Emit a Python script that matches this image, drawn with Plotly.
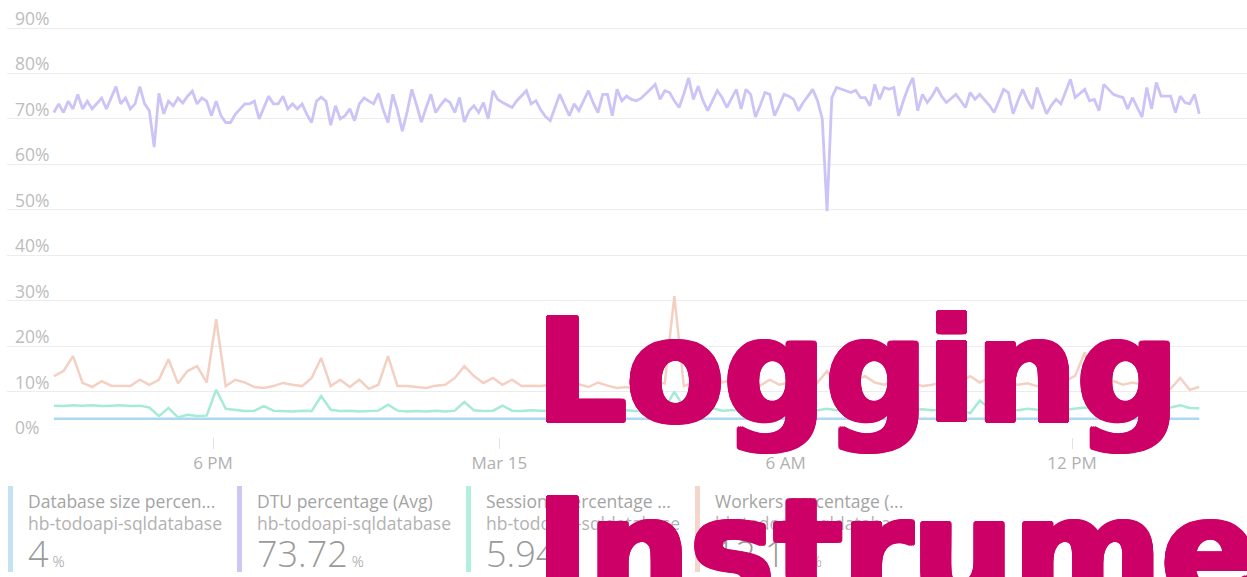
import pandas as pd
import plotly.graph_objects as go

# ---------------- data ----------------
series_names = ["Database size percentage (Max)", "DTU percentage (Avg)",
                "Sessions percentage (Avg)", "Workers percentage (Avg)"]
legend_titles = ["Database size percen...", "DTU percentage (Avg)",
                 "Sessions percentage ...", "Workers percentage (..."]
resource_name = "hb-todoapi-sqldatabase"
summary_values = ["4", "73.72", "5.94", "12.16"]

start_time = "2024-03-14 14:40"

dtu_pct = [
    71.4, 73.3, 71.4, 73.9, 72.2, 75.4, 72.2, 73.9, 72.2, 73.3,
    74.6, 72.2, 74.5, 77.1, 73.3, 74.6, 72.2, 73.3, 77.1, 73.3,
    71.8, 63.8, 75.6, 71.1, 73.9, 72.9, 74.6, 73.5, 75.0, 76.1,
    73.3, 74.6, 73.9, 70.7, 73.9, 70.7, 69.2, 69.2, 71.0, 72.2,
    73.3, 73.3, 73.9, 70.0, 72.5, 75.0, 73.3, 73.3, 75.0, 72.2,
    73.3, 72.2, 73.3, 71.0, 69.2, 73.9, 74.8, 73.9, 68.6, 72.9,
    70.0, 70.7, 72.2, 69.6, 73.3, 74.6, 73.9, 73.3, 75.6, 72.0,
    69.2, 75.4, 71.8, 67.3, 71.5, 76.5, 73.0, 69.3, 72.5, 75.4,
    71.4, 73.0, 74.3, 73.6, 71.4, 74.7, 69.3, 71.8, 72.9, 71.4,
    73.6, 70.0, 76.2, 74.3, 73.6, 73.0, 72.5, 74.0, 75.0, 76.2,
    73.3, 74.0, 72.0, 70.5, 69.6, 72.5, 75.4, 73.0, 70.7, 73.3,
    71.8, 74.0, 76.2, 73.5, 71.4, 75.4, 75.4, 70.7, 76.5, 74.0,
    75.0, 74.3, 74.0, 74.5, 75.4, 76.5, 77.6, 74.3, 76.2, 75.8,
    74.0, 72.5, 75.5, 79.0, 74.3, 77.2, 74.0, 71.8, 74.0, 76.2,
    74.7, 72.5, 74.5, 76.5, 72.2, 76.5, 75.4, 70.4, 73.0, 75.8,
    75.4, 70.7, 73.0, 75.4, 75.0, 74.3, 71.8, 73.6, 75.0, 76.5,
    74.0, 70.0, 49.7, 74.7, 76.9, 76.5, 76.2, 75.8, 76.3, 74.7,
    74.7, 72.9, 77.6, 74.3, 76.9, 76.5, 76.9, 70.7, 74.0, 76.9,
    79.0, 71.8, 75.4, 73.6, 75.0, 76.9, 75.0, 73.6, 74.5, 75.4,
    74.0, 72.5, 75.8, 74.3, 75.4, 74.3, 73.0, 71.4, 74.0, 76.5,
    75.8, 71.1, 74.0, 76.5, 74.0, 72.2, 76.9, 74.0, 71.1, 73.0,
    74.3, 73.3, 76.0, 78.7, 74.7, 75.5, 76.5, 74.0, 74.3, 71.8,
    77.6, 76.5, 75.4, 75.0, 74.7, 72.2, 74.7, 72.5, 70.4, 76.9,
    72.2, 78.0, 75.0, 75.0, 75.0, 71.4, 75.0, 73.6, 73.3, 75.4,
    71.1,
]

workers_pct = [
    13.4, 14.5, 17.8, 11.9, 11.0, 12.3, 11.3, 11.3, 11.2, 12.6,
    11.5, 12.6, 17.1, 11.8, 14.5, 15.6, 12.0, 25.9, 11.2, 12.6,
    12.0, 11.0, 10.8, 11.2, 11.9, 11.5, 11.2, 13.0, 17.4, 11.2,
    12.6, 11.0, 12.6, 10.6, 11.5, 17.8, 11.2, 11.2, 11.0, 10.8,
    11.3, 11.5, 13.0, 15.6, 13.4, 11.9, 13.0, 11.5, 12.6, 11.2,
    11.3, 11.2, 11.5, 12.0, 11.2, 11.6, 11.0, 12.0, 11.3, 10.8,
    11.0, 10.4, 11.5, 12.0, 11.8, 31.0, 11.2, 12.0, 12.6, 15.6,
    12.0, 12.6, 11.5, 12.0, 11.3, 12.6, 11.5, 12.0, 11.2, 14.8,
    12.0, 14.5, 11.5, 12.0, 12.6, 13.4, 12.0, 11.5, 12.3, 11.2,
    12.0, 11.2, 11.5, 12.0, 11.5, 12.3, 13.4, 12.0, 13.0, 11.5,
    12.0, 11.5, 11.8, 11.2, 12.0, 11.5, 12.3, 13.5, 18.6, 12.6,
    12.0, 12.3, 11.5, 12.0, 11.5, 12.3, 11.5, 10.6, 13.0, 10.4,
    11.0,
]

sessions_pct = [
    6.9, 6.8, 7.0, 6.9, 7.0, 6.8, 6.9, 7.0, 6.8, 6.9,
    6.5, 4.6, 6.4, 4.3, 4.9, 4.6, 4.7, 10.4, 6.2, 5.9,
    5.7, 5.8, 6.8, 5.8, 5.7, 5.6, 5.8, 5.7, 9.0, 6.0,
    5.7, 5.8, 5.6, 5.7, 5.8, 7.1, 5.8, 5.6, 5.7, 5.6,
    5.8, 5.6, 5.8, 7.7, 5.9, 5.7, 5.8, 6.9, 5.8, 5.7,
    5.9, 5.8, 5.7, 5.9, 5.8, 5.7, 5.9, 5.8, 6.0, 5.8,
    5.9, 5.7, 5.8, 6.0, 6.2, 10.0, 6.5, 6.0, 5.9, 6.3,
    5.8, 5.9, 6.0, 5.8, 6.1, 5.9, 6.0, 5.8, 6.1, 6.0,
    5.9, 6.2, 5.9, 6.0, 5.8, 6.1, 6.0, 5.9, 6.1, 5.9,
    6.0, 6.1, 5.9, 6.0, 5.8, 6.0, 5.2, 8.0, 6.3, 6.0,
    6.1, 5.9, 6.2, 6.0, 6.1, 6.3, 6.0, 6.2, 6.5, 6.2,
    6.3, 6.1, 6.2, 6.3, 6.1, 6.4, 6.3, 6.5, 7.0, 6.4,
    6.3,
]

db_size_pct = [4.0, 4.0, 4.0, 4.0, 4.0, 4.0, 4.0, 4.0, 4.0, 4.0,
               4.0, 4.0, 4.0, 4.0, 4.0, 4.0, 4.0, 4.0, 4.0, 4.0,
               4.0, 4.0, 4.0, 4.0, 4.0]

y_tick_vals = [0, 10, 20, 30, 40, 50, 60, 70, 80, 90]
y_tick_text = ["0%", "10%", "20%", "30%", "40%", "50%", "60%", "70%", "80%", "90%"]
x_tick_vals = ["2024-03-14 18:00", "2024-03-15 00:00", "2024-03-15 06:00", "2024-03-15 12:00"]
x_tick_text = ["6 PM", "Mar 15", "6 AM", "12 PM"]
x_range = ["2024-03-14 13:41", "2024-03-15 15:40"]
y_range = [0, 94.4]

# ---------------- styling ----------------
line_colors = ["#acd9f1", "#cbc4f7", "#a6ebd7", "#f4d0c3"]
bar_colors = ["#c3e3f5", "#cdc7f5", "#b3efde", "#f5d6cc"]
overlay_color = "#cc0066"
overlay_font = "DejaVu Sans, Liberation Sans, sans-serif"
c = overlay_color
overlay_shadow = (f"3px 0 0 {c}, -3px 0 0 {c}, 0 2px 0 {c}, 0 -2px 0 {c}, "
                  f"2px 2px 0 {c}, -2px -2px 0 {c}, 2px -2px 0 {c}, -2px 2px 0 {c}, "
                  f"3px 1px 0 {c}, -3px -1px 0 {c}, 3px -1px 0 {c}, -3px 1px 0 {c}")
W, H = 1247, 577
PL, PR, PT, PB = 7, 1247, 8, 437


def fx(p):
    return (p - PL) / (PR - PL)


def fy(p):
    return (PB - p) / (PB - PT)


t6 = pd.date_range(start_time, periods=len(dtu_pct), freq="6min")
t12 = pd.date_range(start_time, periods=len(workers_pct), freq="12min")
t60 = pd.date_range(start_time, periods=len(db_size_pct), freq="60min")

fig = go.Figure()
fig.add_trace(go.Scatter(x=t60, y=db_size_pct, mode="lines", name=series_names[0],
                         line=dict(color=line_colors[0], width=2.6)))
fig.add_trace(go.Scatter(x=t6, y=dtu_pct, mode="lines", name=series_names[1],
                         line=dict(color=line_colors[1], width=2.8)))
fig.add_trace(go.Scatter(x=t12, y=sessions_pct, mode="lines", name=series_names[2],
                         line=dict(color=line_colors[2], width=2.5)))
fig.add_trace(go.Scatter(x=t12, y=workers_pct, mode="lines", name=series_names[3],
                         line=dict(color=line_colors[3], width=2.5)))

fig.update_layout(
    width=W, height=H,
    margin=dict(l=PL, r=W - PR, t=PT, b=H - PB),
    paper_bgcolor="white", plot_bgcolor="white",
    showlegend=False,
    font=dict(family="Open Sans, Segoe UI, sans-serif", color="#a8a8a8"),
    xaxis=dict(type="date", range=x_range, tickvals=x_tick_vals, ticktext=x_tick_text,
               showgrid=False, zeroline=False, showline=False,
               ticks="outside", ticklen=11, tickcolor="#e2e2e2", tickwidth=1,
               tickfont=dict(size=17, color="#b0b0b0")),
    yaxis=dict(range=y_range, tickvals=y_tick_vals, showticklabels=False,
               showgrid=True, gridcolor="#ececec", gridwidth=1, zeroline=False,
               showline=False, ticks=""),
)

shapes = []
annotations = []

# y-axis tick labels, placed through the y scale, sitting just above each gridline
for v, t in zip(y_tick_vals, y_tick_text):
    annotations.append(dict(xref="paper", yref="y", x=fx(13), y=v, yshift=10,
                            xanchor="left", yanchor="middle", showarrow=False,
                            text=t, font=dict(size=17.5, color="#bdbdbd")))

block_x = [8, 237, 466, 695]
for k in range(4):
    bx = block_x[k]
    shapes.append(dict(type="rect", xref="paper", yref="paper",
                       x0=fx(bx), x1=fx(bx + 5), y0=fy(486), y1=fy(572),
                       fillcolor=bar_colors[k], line=dict(width=0), layer="above"))
    annotations.append(dict(xref="paper", yref="paper", x=fx(bx + 18), y=fy(501),
                            xanchor="left", yanchor="middle", showarrow=False,
                            text=legend_titles[k],
                            font=dict(size=17.5, color="#a4a4a4")))
    annotations.append(dict(xref="paper", yref="paper", x=fx(bx + 18), y=fy(523),
                            xanchor="left", yanchor="middle", showarrow=False,
                            text=resource_name,
                            font=dict(size=17.5, color="#b2b2b2")))
    annotations.append(dict(xref="paper", yref="paper", x=fx(bx + 18), y=fy(577),
                            yshift=-3,
                            xanchor="left", yanchor="bottom", showarrow=False,
                            text=summary_values[k] + "<span style='font-size:15px'> %</span>",
                            font=dict(size=36, color="#9a9a9a", weight=300)))

annotations.append(dict(xref="paper", yref="paper", x=fx(534), y=fy(371),
                        xanchor="left", yanchor="middle", showarrow=False,
                        text="Logging",
                        font=dict(family=overlay_font, size=142, shadow=overlay_shadow,
                                  color=overlay_color, weight="bold")))
annotations.append(dict(xref="paper", yref="paper", x=fx(534), y=fy(551),
                        xanchor="left", yanchor="middle", showarrow=False,
                        text="Instrumentation",
                        font=dict(family=overlay_font, size=142, shadow=overlay_shadow,
                                  color=overlay_color, weight="bold")))

fig.update_layout(shapes=shapes, annotations=annotations)

fig.write_html("out.html", config={"displayModeBar": False},
               post_script="document.body.style.margin='0';")
